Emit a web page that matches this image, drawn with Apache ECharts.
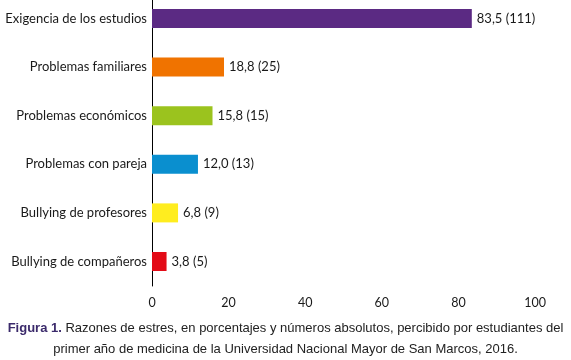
<!DOCTYPE html>
<html>
<head>
<meta charset="utf-8">
<script src="https://cdn.jsdelivr.net/npm/echarts@6/dist/echarts.min.js"></script>
<style>
  html, body { margin: 0; padding: 0; background: #fff; }
  #chart { width: 571px; height: 360px; }
</style>
</head>
<body>
<div id="chart"></div>
<script>
// datos (de abajo hacia arriba)
var categorias = ["Bullying de compañeros", "Bullying de profesores", "Problemas con pareja",
  "Problemas económicos", "Problemas familiares", "Exigencia de los estudios"];
var porcentajes = [3.8, 6.8, 12.0, 15.8, 18.8, 83.5];
var numeros = [5, 9, 13, 15, 25, 111];
var colores = ["#e30b17", "#ffed1f", "#0a8fcf", "#9bc31e", "#f07300", "#5b2a83"];
var ticksX = [0, 20, 40, 60, 80, 100];

var chart = echarts.init(document.getElementById("chart"));

var datos = porcentajes.map(function (v, i) {
  return { value: v, itemStyle: { color: colores[i] } };
});

var fuente = { color: "#1a1a1a", fontFamily: "Lato", fontSize: 13 };

var option = {
  animation: false,
  // grid 0: barras; grid 1: eje (línea vertical y marcas del eje x)
  grid: [
    { left: 152, right: 36, top: 18.5, height: 243 },
    { left: 152, right: 36, top: 0, height: 286 }
  ],
  xAxis: [{
    gridIndex: 0,
    type: "value",
    min: ticksX[0],
    max: ticksX[ticksX.length - 1],
    interval: 20,
    show: false
  }, {
    gridIndex: 1,
    type: "value",
    min: ticksX[0],
    max: ticksX[ticksX.length - 1],
    interval: 20,
    axisLine: { show: false },
    axisTick: { show: false },
    splitLine: { show: false },
    axisLabel: { color: "#1a1a1a", fontFamily: "Lato", fontSize: 12.5, margin: 10 }
  }],
  yAxis: [{
    gridIndex: 0,
    type: "category",
    data: categorias,
    boundaryGap: false,
    axisLine: { show: false },
    axisTick: { show: false },
    splitLine: { show: false },
    axisLabel: Object.assign({ margin: 5 }, fuente)
  }, {
    gridIndex: 1,
    type: "value",
    min: 0,
    max: 1,
    axisLine: { show: true, lineStyle: { color: "#000", width: 1 } },
    axisTick: { show: false },
    splitLine: { show: false },
    axisLabel: { show: false }
  }],
  series: [{
    type: "bar",
    xAxisIndex: 0,
    yAxisIndex: 0,
    data: datos,
    barWidth: 19,
    label: Object.assign({
      show: true,
      position: "right",
      distance: 5,
      formatter: function (p) {
        return porcentajes[p.dataIndex].toFixed(1).replace(".", ",") + " (" + numeros[p.dataIndex] + ")";
      }
    }, fuente)
  }],
  graphic: [{
    type: "text",
    left: "center",
    top: 322,
    style: {
      text: "{b|Figura 1.} Razones de estres, en porcentajes y números absolutos, percibido por estudiantes del",
      font: "13px 'Liberation Sans'",
      fill: "#222",
      rich: {
        b: { fontWeight: "bold", fill: "#3b2a6b", fontFamily: "Liberation Sans", fontSize: 13 }
      }
    }
  }, {
    type: "text",
    left: "center",
    top: 343,
    style: {
      text: "primer año de medicina de la Universidad Nacional Mayor de San Marcos, 2016.",
      font: "13px 'Liberation Sans'",
      fill: "#222"
    }
  }]
};

chart.setOption(option);
</script>
</body>
</html>
